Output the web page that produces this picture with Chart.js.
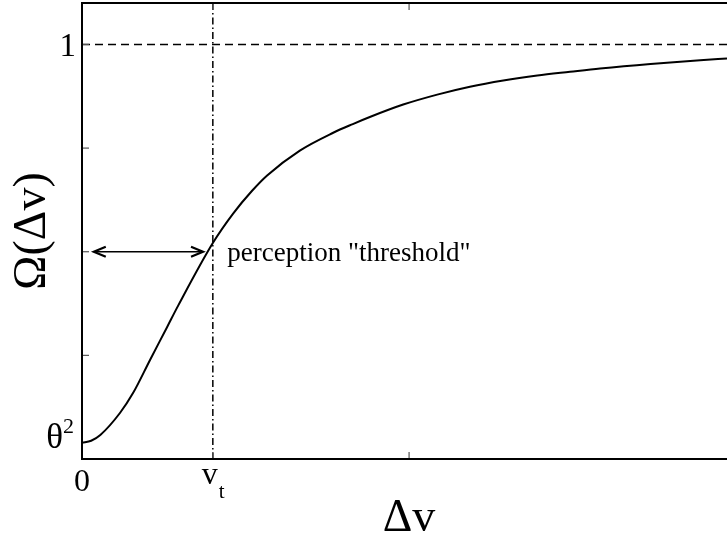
<!DOCTYPE html>
<html>
<head>
<meta charset="utf-8">
<script src="https://cdn.jsdelivr.net/npm/chart.js@4"></script>
<style>
  html, body { margin: 0; padding: 0; background: #fff; overflow: hidden; }
  #wrap { width: 727px; height: 541px; }
</style>
</head>
<body>
<div id="wrap"><canvas id="myChart"></canvas></div>
<script>
// Omega(dv) curve, read point by point
const dv = [0, 0.14, 0.28, 0.58, 0.78, 1.04, 1.3, 1.47, 2.0, 2.31, 2.6, 2.83, 3.33, 3.84, 4.14, 4.4, 4.91, 5.43, 5.93, 6.44, 6.96, 7.46, 7.92, 8.69, 9.45, 9.86];
const omega = [0.039, 0.044, 0.058, 0.111, 0.159, 0.239, 0.318, 0.37, 0.521, 0.592, 0.647, 0.684, 0.744, 0.787, 0.808, 0.825, 0.855, 0.879, 0.898, 0.913, 0.925, 0.934, 0.942, 0.953, 0.962, 0.966];

const xTicks = [0, 2, 5];          // 0, v_t, middle
const yTicks = [0.25, 0.5, 0.75, 1];
const theta2 = 0.039;
const vt = 2;
const threshold = 0.5;
const arrowFrom = 0.18, arrowTo = 1.85;
const xMax = 9.86, yMax = 1.1;

const serif = '"Liberation Serif", "DejaVu Serif", serif';

const axesPlugin = {
  id: 'axesPlugin',
  afterDatasetsDraw(chart) {
    const c = chart.ctx;
    const xs = chart.scales.x, ys = chart.scales.y;
    const a = chart.chartArea;
    c.save();

    // y = 1 dashed line
    c.strokeStyle = '#000';
    c.lineWidth = 1.5;
    c.setLineDash([8, 5]);
    c.beginPath();
    c.moveTo(a.left, ys.getPixelForValue(1));
    c.lineTo(a.right, ys.getPixelForValue(1));
    c.stroke();

    // v_t dash-dot line
    c.setLineDash([7, 3, 1.5, 3]);
    c.beginPath();
    c.moveTo(xs.getPixelForValue(vt), a.top);
    c.lineTo(xs.getPixelForValue(vt), a.bottom);
    c.stroke();
    c.setLineDash([]);

    // inner ticks
    c.strokeStyle = '#555';
    c.lineWidth = 1.2;
    yTicks.forEach(v => {
      const y = ys.getPixelForValue(v);
      c.beginPath(); c.moveTo(a.left, y); c.lineTo(a.left + 7, y); c.stroke();
    });
    xTicks.forEach(v => {
      const x = xs.getPixelForValue(v);
      c.beginPath(); c.moveTo(x, a.bottom); c.lineTo(x, a.bottom - 7); c.stroke();
      c.beginPath(); c.moveTo(x, a.top); c.lineTo(x, a.top + 7); c.stroke();
    });

    // frame: left, bottom, top
    c.strokeStyle = '#000';
    c.lineWidth = 2;
    c.beginPath();
    c.moveTo(a.right, a.top);
    c.lineTo(a.left, a.top);
    c.lineTo(a.left, a.bottom);
    c.lineTo(a.right, a.bottom);
    c.stroke();

    // double arrow at the threshold level
    const ay = ys.getPixelForValue(threshold);
    const ax1 = xs.getPixelForValue(arrowFrom), ax2 = xs.getPixelForValue(arrowTo);
    c.lineWidth = 1.5;
    c.beginPath(); c.moveTo(ax1, ay); c.lineTo(ax2, ay); c.stroke();
    c.lineWidth = 2.2;
    c.beginPath();
    c.moveTo(ax1 + 12, ay - 5); c.lineTo(ax1, ay); c.lineTo(ax1 + 12, ay + 5);
    c.moveTo(ax2 - 12, ay - 5); c.lineTo(ax2, ay); c.lineTo(ax2 - 12, ay + 5);
    c.stroke();

    c.fillStyle = '#000';
    c.textBaseline = 'alphabetic';

    // annotation
    c.font = '27px ' + serif;
    c.textAlign = 'left';
    c.fillText('perception "threshold"', xs.getPixelForValue(2.22), ay + 9);

    // y tick labels
    c.font = '33px ' + serif;
    c.textAlign = 'right';
    c.fillText('1', a.left - 6, ys.getPixelForValue(1) + 12);
    const ty = ys.getPixelForValue(theta2);
    c.font = '35px ' + serif;
    c.fillText('\u03B8', a.left - 19, ty + 5);
    c.font = '22px ' + serif;
    c.textAlign = 'left';
    c.fillText('2', a.left - 19, ty - 10);

    // x tick labels
    c.font = '32px ' + serif;
    c.textAlign = 'center';
    c.fillText('0', xs.getPixelForValue(0), a.bottom + 32);
    c.fillText('v', xs.getPixelForValue(vt) - 3, a.bottom + 25);
    c.font = '21px ' + serif;
    c.textAlign = 'left';
    c.fillText('t', xs.getPixelForValue(vt) + 6, a.bottom + 39);

    // axis titles
    c.font = '46px ' + serif;
    c.textAlign = 'center';
    c.fillText('\u0394v', xs.getPixelForValue(5), a.bottom + 72);
    c.translate(45, (a.top + a.bottom) / 2);
    c.rotate(-Math.PI / 2);
    c.fillText('\u03A9(\u0394v)', 0, 0);

    c.restore();
  }
};

new Chart(document.getElementById('myChart'), {
  type: 'scatter',
  data: {
    datasets: [{
      data: dv.map((x, i) => ({ x: x, y: omega[i] })),
      showLine: true,
      borderColor: '#000',
      borderWidth: 2,
      pointRadius: 0,
      cubicInterpolationMode: 'monotone'
    }]
  },
  options: {
    responsive: true,
    maintainAspectRatio: false,
    animation: false,
    layout: { padding: { top: 3, right: 0, left: 0, bottom: 0 } },
    plugins: { legend: { display: false }, tooltip: { enabled: false } },
    scales: {
      x: {
        type: 'linear', min: 0, max: xMax,
        ticks: { display: false }, grid: { display: false }, border: { display: false },
        afterFit(scale) { scale.height = 82; }
      },
      y: {
        type: 'linear', min: 0, max: yMax,
        ticks: { display: false }, grid: { display: false }, border: { display: false },
        afterFit(scale) { scale.width = 82; }
      }
    }
  },
  plugins: [axesPlugin]
});
</script>
</body>
</html>
